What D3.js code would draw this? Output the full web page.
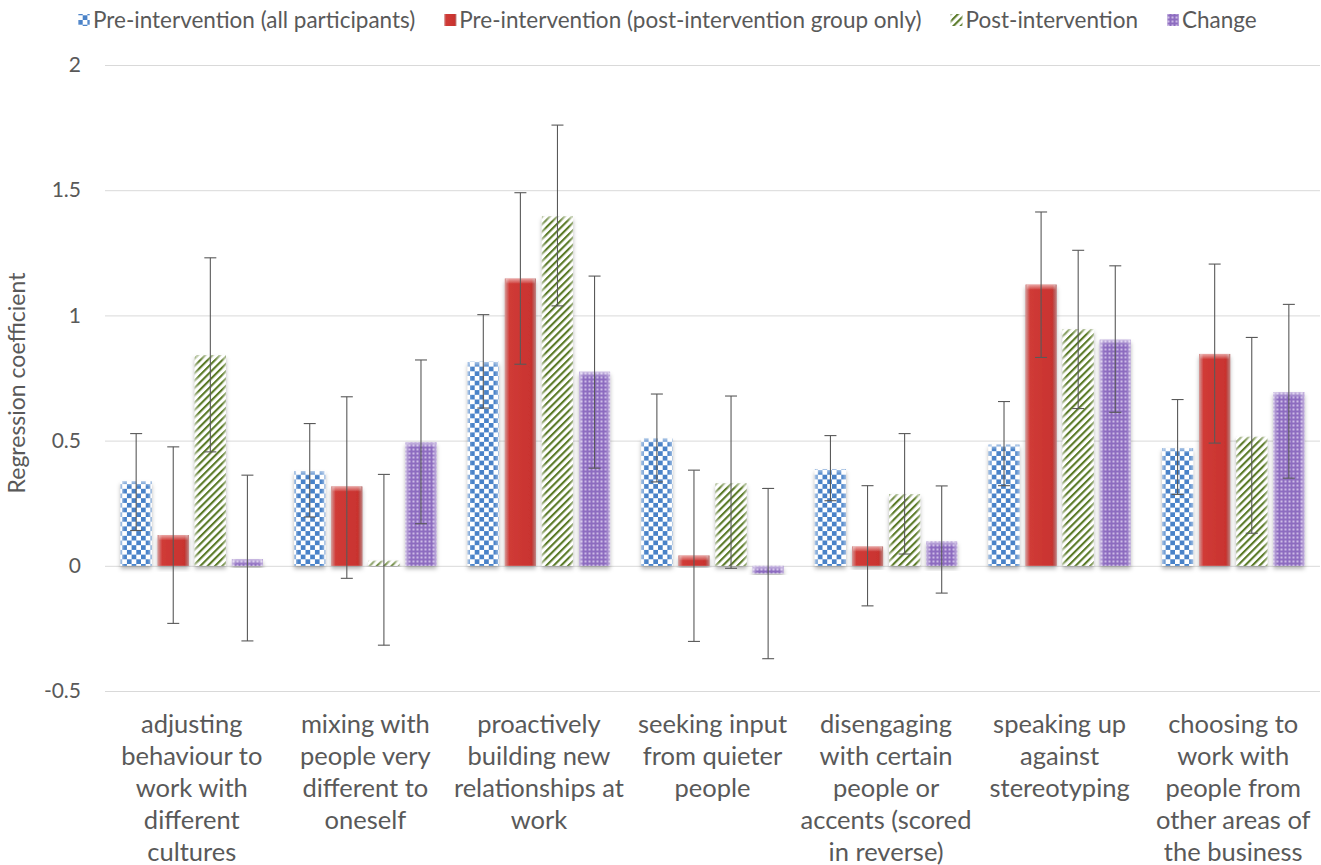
<!DOCTYPE html>
<html>
<head>
<meta charset="utf-8">
<script src="https://cdn.jsdelivr.net/npm/d3@7"></script>
<style>
  html, body { margin: 0; padding: 0; background: #fff; }
  svg text { font-family: Lato, "Open Sans", sans-serif; fill: #595959; }
</style>
</head>
<body>
<svg id="chart" width="1321" height="865"></svg>
<script>
// Behaviour categories (x axis), wrapped onto lines
const categories = [
  ["adjusting", "behaviour to", "work with", "different", "cultures"],
  ["mixing with", "people very", "different to", "oneself"],
  ["proactively", "building new", "relationships at", "work"],
  ["seeking input", "from quieter", "people"],
  ["disengaging", "with certain", "people or", "accents (scored", "in reverse)"],
  ["speaking up", "against", "stereotyping"],
  ["choosing to", "work with", "people from", "other areas of", "the business"]
];

const seriesNames = [
  "Pre-intervention (all participants)",
  "Pre-intervention (post-intervention group only)",
  "Post-intervention",
  "Change"
];

// Regression coefficients per series, one value per category
const preAll   = [0.337, 0.378, 0.815, 0.508, 0.386, 0.484, 0.470];
const preGroup = [0.123, 0.317, 1.147, 0.041, 0.077, 1.123, 0.846];
const post     = [0.841, 0.020, 1.395, 0.329, 0.286, 0.945, 0.515];
const change   = [0.027, 0.494, 0.775, -0.030, 0.098, 0.903, 0.694];

// Confidence interval bounds (upper / lower) per series
const preAllHi   = [0.528, 0.568, 1.003, 0.686, 0.520, 0.656, 0.664];
const preAllLo   = [0.141, 0.195, 0.630, 0.335, 0.260, 0.320, 0.285];
const preGroupHi = [0.475, 0.675, 1.490, 0.382, 0.320, 1.413, 1.205];
const preGroupLo = [-0.230, -0.050, 0.805, -0.302, -0.160, 0.832, 0.490];
const postHi     = [1.230, 0.365, 1.760, 0.678, 0.528, 1.260, 0.912];
const postLo     = [0.455, -0.317, 1.038, -0.010, 0.047, 0.628, 0.130];
const changeHi   = [0.362, 0.822, 1.157, 0.309, 0.319, 1.198, 1.044];
const changeLo   = [-0.300, 0.168, 0.390, -0.371, -0.109, 0.613, 0.350];

const yTicks = [-0.5, 0, 0.5, 1, 1.5, 2];
const yTitle = "Regression coefficient";

const seriesValues = [preAll, preGroup, post, change];
const seriesHi = [preAllHi, preGroupHi, postHi, changeHi];
const seriesLo = [preAllLo, preGroupLo, postLo, changeLo];
const fills = ["url(#pat-check)", "url(#grad-red)", "url(#pat-stripe)", "url(#pat-dots)"];

const svg = d3.select("#chart");
const defs = svg.append("defs");

// Blue checkerboard
const chk = defs.append("pattern").attr("id", "pat-check")
  .attr("patternUnits", "userSpaceOnUse").attr("width", 9.4).attr("height", 9.4);
chk.append("rect").attr("width", 9.4).attr("height", 9.4).attr("fill", "#ffffff");
chk.append("rect").attr("width", 4.7).attr("height", 4.7).attr("fill", "#4a82c8");
chk.append("rect").attr("x", 4.7).attr("y", 4.7).attr("width", 4.7).attr("height", 4.7).attr("fill", "#4a82c8");

// Green upward diagonal stripes
const str = defs.append("pattern").attr("id", "pat-stripe")
  .attr("patternUnits", "userSpaceOnUse").attr("width", 5.2).attr("height", 5.2)
  .attr("patternTransform", "rotate(45)");
str.append("rect").attr("width", 5.2).attr("height", 5.2).attr("fill", "#ffffff");
str.append("rect").attr("width", 2.1).attr("height", 5.2).attr("fill", "#5a7a28");

// Purple small dotted grid
const dots = defs.append("pattern").attr("id", "pat-dots")
  .attr("patternUnits", "userSpaceOnUse").attr("width", 4).attr("height", 4);
dots.append("rect").attr("width", 4).attr("height", 4).attr("fill", "#8d6cc0");
dots.append("rect").attr("x", 0.5).attr("y", 0.5).attr("width", 2).attr("height", 2).attr("fill", "#cdbbe6");

// Red bevelled fill
const gRed = defs.append("linearGradient").attr("id", "grad-red")
  .attr("x1", 0).attr("x2", 1).attr("y1", 0).attr("y2", 0);
gRed.append("stop").attr("offset", "0%").attr("stop-color", "#a82623");
gRed.append("stop").attr("offset", "12%").attr("stop-color", "#d03b37");
gRed.append("stop").attr("offset", "85%").attr("stop-color", "#c9332f");
gRed.append("stop").attr("offset", "100%").attr("stop-color", "#8f1f1c");

// Edge sheen for all bars
const sheen = defs.append("linearGradient").attr("id", "grad-sheen")
  .attr("x1", 0).attr("x2", 1).attr("y1", 0).attr("y2", 0);
sheen.append("stop").attr("offset", "0%").attr("stop-color", "#fff").attr("stop-opacity", 0.55);
sheen.append("stop").attr("offset", "14%").attr("stop-color", "#fff").attr("stop-opacity", 0);
sheen.append("stop").attr("offset", "86%").attr("stop-color", "#fff").attr("stop-opacity", 0);
sheen.append("stop").attr("offset", "100%").attr("stop-color", "#fff").attr("stop-opacity", 0.45);

const topSheen = defs.append("linearGradient").attr("id", "grad-top")
  .attr("x1", 0).attr("x2", 0).attr("y1", 0).attr("y2", 1);
topSheen.append("stop").attr("offset", "0%").attr("stop-color", "#fff").attr("stop-opacity", 0.55);
topSheen.append("stop").attr("offset", "100%").attr("stop-color", "#fff").attr("stop-opacity", 0.05);

const shadow = defs.append("filter").attr("id", "bar-shadow")
  .attr("x", "-20%").attr("y", "-20%").attr("width", "140%").attr("height", "140%");
shadow.append("feDropShadow").attr("dx", 0).attr("dy", 3).attr("stdDeviation", 2)
  .attr("flood-color", "#000").attr("flood-opacity", 0.3);

// Scales
const plotLeft = 105, plotRight = 1320, plotTop = 65, plotBottom = 691;
const x0 = d3.scaleBand().domain(d3.range(categories.length))
  .range([plotLeft, plotRight]).paddingInner(0.18).paddingOuter(0.09);
const x1 = d3.scaleBand().domain(d3.range(seriesNames.length))
  .range([0, x0.bandwidth()]).paddingInner(0.162);
const y = d3.scaleLinear().domain([-0.5, 2]).range([plotBottom, plotTop]);

// Gridlines + y axis labels
const yAxis = d3.axisLeft(y).tickValues(yTicks)
  .tickSize(-(plotRight - plotLeft)).tickPadding(24)
  .tickFormat(d => d === 0 ? "0" : String(d));
const yg = svg.append("g").attr("transform", `translate(${plotLeft},0)`).call(yAxis);
yg.select(".domain").remove();
yg.selectAll(".tick line").attr("stroke", "#d9d9d9").attr("stroke-width", 1);
yg.selectAll(".tick text").attr("font-size", 21).style("fill", "#595959");

svg.append("text")
  .attr("transform", `translate(25,${(plotTop + plotBottom) / 2 + 5}) rotate(-90)`)
  .attr("text-anchor", "middle").attr("font-size", 23)
  .text(yTitle);

// Bars
const rows = [];
seriesValues.forEach((vals, s) => vals.forEach((v, c) => rows.push({ s, c, v, hi: seriesHi[s][c], lo: seriesLo[s][c] })));

const bars = svg.append("g");
const barG = bars.selectAll("g.bar").data(rows).join("g").attr("class", "bar");
barG.append("rect")
  .attr("x", d => x0(d.c) + x1(d.s))
  .attr("y", d => y(Math.max(0, d.v)))
  .attr("width", x1.bandwidth())
  .attr("height", d => Math.abs(y(d.v) - y(0)))
  .attr("fill", d => fills[d.s])
  .attr("filter", "url(#bar-shadow)");
barG.append("rect")
  .attr("x", d => x0(d.c) + x1(d.s))
  .attr("y", d => y(Math.max(0, d.v)))
  .attr("width", x1.bandwidth())
  .attr("height", d => Math.abs(y(d.v) - y(0)))
  .attr("fill", "url(#grad-sheen)");
barG.append("rect")
  .attr("x", d => x0(d.c) + x1(d.s) + 1)
  .attr("y", d => y(Math.max(0, d.v)))
  .attr("width", x1.bandwidth() - 2)
  .attr("height", d => Math.min(5, Math.abs(y(d.v) - y(0))))
  .attr("fill", "url(#grad-top)");

// Error bars
const cap = 6;
const err = svg.append("g").attr("stroke", "#595959").attr("stroke-width", 1.1);
rows.forEach(d => {
  const cx = x0(d.c) + x1(d.s) + x1.bandwidth() / 2;
  err.append("line").attr("x1", cx).attr("x2", cx).attr("y1", y(d.hi)).attr("y2", y(d.lo));
  err.append("line").attr("x1", cx - cap).attr("x2", cx + cap).attr("y1", y(d.hi)).attr("y2", y(d.hi));
  err.append("line").attr("x1", cx - cap).attr("x2", cx + cap).attr("y1", y(d.lo)).attr("y2", y(d.lo));
});

// Category labels
const xl = svg.append("g");
categories.forEach((lines, c) => {
  const t = xl.append("text").attr("text-anchor", "middle").attr("font-size", 25.5)
    .attr("x", x0(c) + x0.bandwidth() / 2).attr("y", 733);
  lines.forEach((ln, i) => t.append("tspan").attr("x", x0(c) + x0.bandwidth() / 2).attr("dy", i ? 32 : 0).text(ln));
});

// Legend: items laid out left to right, each after the previous one's text
const lg = svg.append("g").attr("transform", "translate(0,20)");
let lx = 78;
seriesNames.forEach((name, s) => {
  const g = lg.append("g").attr("transform", `translate(${lx},0)`);
  g.append("rect").attr("x", 0).attr("y", -6).attr("width", 12).attr("height", 12).attr("fill", fills[s]);
  g.append("rect").attr("x", 0).attr("y", -6).attr("width", 12).attr("height", 12).attr("fill", "url(#grad-sheen)");
  const t = g.append("text").attr("x", 15).attr("y", 0).attr("dy", "0.35em").attr("font-size", 22.5).text(name);
  lx += 15 + t.node().getComputedTextLength() + 29;
});
</script>
</body>
</html>
